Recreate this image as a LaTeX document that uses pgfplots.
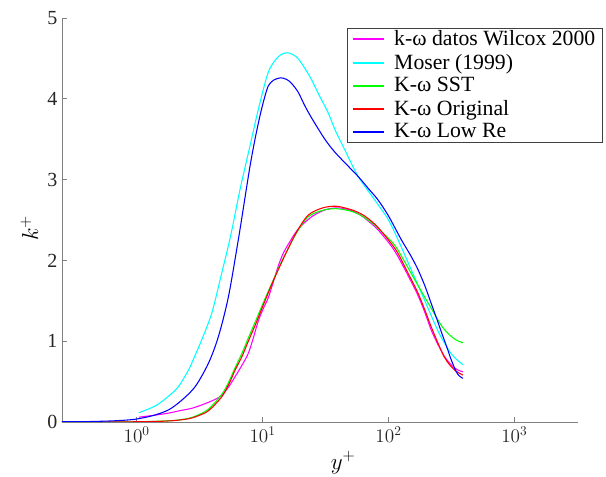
\documentclass[border=0pt]{standalone}
\usepackage{fontspec}
\setmainfont{Liberation Serif}
\usepackage{pgfplots}
\pgfplotsset{compat=1.18}

\definecolor{axgray}{gray}{0.5}
\definecolor{txtgray}{gray}{0.15}
\definecolor{cmag}{rgb}{1,0,1}
\definecolor{ccya}{rgb}{0,1,1}
\definecolor{cgre}{rgb}{0,1,0}
\definecolor{cred}{rgb}{1,0,0}
\definecolor{cblu}{rgb}{0,0,1}

\begin{document}
\begin{tikzpicture}
% page = 606x477 px at 0.75pt per px
\useasboundingbox (-46.5pt,-41.25pt) rectangle (408pt,316.5pt);
\begin{semilogxaxis}[
    scale only axis,
    width=387pt, height=303pt,
    xmin=0.255, xmax=3200,
    ymin=0, ymax=5,
    axis x line*=bottom,
    axis y line*=left,
    axis line style={axgray, line width=0.6pt},
    tick align=inside,
    major tick length=3.5pt,
    every tick/.style={axgray, line width=0.6pt},
    xminorticks=false,
    xtick={1,10,100,1000},
    ytick={0,1,2,3,4,5},
    yticklabels={0,1,2,3,4,5},
    xticklabel style={font=\fontsize{14}{16}\selectfont, text=txtgray},
    yticklabel style={font=\fontsize{15}{17}\selectfont, text=txtgray},
    xlabel={$y^{+}$},
    ylabel={$k^{+}$},
    xlabel style={font=\fontsize{17}{19}\selectfont, at={(ticklabel cs:0.545)}, anchor=near ticklabel},
    ylabel style={font=\fontsize{17}{19}\selectfont, xshift=-6pt},
    legend cell align=left,
    legend style={
        at={(1.047,0.976)}, anchor=north east,
        draw=black!75, fill=white,
        font=\fontsize{16.3}{18}\selectfont,
        inner xsep=4pt, inner ysep=1pt,
        column sep=7pt, row sep=2.75pt,
        nodes={inner sep=1pt},
    },
    legend image code/.code={\fill[#1, draw=none] (0pt,-0.7pt) rectangle (23pt,0.7pt);},
    every axis plot/.append style={line width=0.8pt},
]
% k-omega Wilcox data
\addplot[cmag, smooth] coordinates {
(1.04,0.06)(1.4,0.085)(1.79,0.11)(2.2,0.14)(2.74,0.17)(3.4,0.22)(4.2,0.28)(4.73,0.33)
(5.4,0.44)(6.04,0.56)(6.9,0.71)(7.7,0.85)(8.4,1.03)(9.24,1.25)(10.1,1.40)(11.1,1.54)
(12.2,1.74)(13.3,1.93)(14.6,2.09)(16,2.2)(18,2.33)(20,2.42)(25,2.55)(32,2.63)(40,2.65)
(50,2.62)(60,2.56)(68.7,2.49)(80,2.40)(90,2.31)(105,2.18)(118.6,2.05)(140,1.84)(171,1.57)
(195,1.35)(218,1.14)(245,0.97)(276,0.82)(305,0.73)(334,0.67)(360,0.64)(390,0.62)};
% Moser DNS
\addplot[ccya, smooth] coordinates {
(1.04,0.115)(1.41,0.2)(1.79,0.32)(2.15,0.44)(2.58,0.645)(2.9,0.82)(3.29,1.02)(3.95,1.35)
(4.73,1.84)(5.6,2.32)(6.62,2.88)(7.95,3.42)(9.25,3.87)(11.1,4.33)(13.3,4.52)(15.7,4.57)
(18.5,4.52)(21,4.41)(24.4,4.24)(28,4.05)(33.1,3.83)(38,3.6)(44.9,3.37)(57.3,3.04)
(77.6,2.75)(100,2.50)(118.6,2.26)(150,1.90)(193,1.51)(245,1.14)(280,0.97)(313,0.85)
(350,0.77)(390,0.71)};
% SST
\addplot[cgre, smooth] coordinates {
(0.255,0.0)(0.5,0.001)(1,0.003)(1.5,0.01)(2,0.02)(2.58,0.045)(3.0,0.08)(3.72,0.16)
(4.73,0.34)(5.4,0.5)(6.04,0.67)(6.9,0.86)(7.7,1.04)(8.8,1.25)(9.84,1.43)(11.1,1.62)
(12.5,1.80)(14.2,1.99)(16,2.15)(18.6,2.34)(23,2.54)(30,2.62)(38.5,2.64)(50,2.61)
(60,2.56)(68.7,2.50)(80,2.42)(90,2.34)(105,2.24)(118.6,2.13)(150,1.85)(193,1.55)
(220,1.40)(245,1.27)(270,1.17)(295,1.10)(340,1.02)(390,0.98)};
% Original
\addplot[cred, smooth] coordinates {
(0.255,0.0)(0.5,0.001)(1,0.003)(1.5,0.008)(2,0.018)(2.58,0.04)(3.0,0.07)(3.72,0.14)
(4.73,0.31)(5.4,0.47)(6.04,0.64)(6.9,0.82)(7.7,1.0)(8.8,1.21)(9.84,1.40)(11.1,1.60)
(12.5,1.79)(14.2,1.98)(16,2.15)(18.6,2.35)(23,2.56)(30,2.65)(38.5,2.67)(50,2.63)
(60,2.58)(68.7,2.52)(80,2.43)(90,2.34)(105,2.21)(118.6,2.09)(140,1.87)(171,1.60)
(195,1.38)(218,1.18)(245,0.99)(276,0.81)(305,0.71)(334,0.645)(360,0.61)(390,0.58)};
% Low Re
\addplot[cblu, smooth] coordinates {
(0.255,0.003)(0.4,0.005)(0.6,0.012)(0.8,0.022)(1.0,0.037)(1.35,0.08)(1.79,0.15)(2.28,0.27)
(2.92,0.44)(3.72,0.73)(4.46,1.06)(5.35,1.55)(6.42,2.26)(7.2,2.75)(7.95,3.17)(8.7,3.5)
(9.53,3.79)(10.3,4.0)(11.1,4.16)(12.2,4.23)(13.9,4.26)(15.5,4.24)(17,4.19)(19.2,4.08)
(21.7,3.91)(25,3.74)(31.2,3.5)(37,3.35)(44.9,3.21)(57.3,3.04)(70,2.88)(82.4,2.75)
(100,2.55)(126,2.26)(150,2.06)(171,1.89)(195,1.68)(218,1.47)(240,1.29)(262,1.12)
(290,0.93)(313,0.78)(343,0.63)(365,0.57)(390,0.54)};
\legend{k-ω datos Wilcox 2000, Moser (1999), K-ω SST, K-ω Original, K-ω Low Re}
\end{semilogxaxis}
\end{tikzpicture}
\end{document}
